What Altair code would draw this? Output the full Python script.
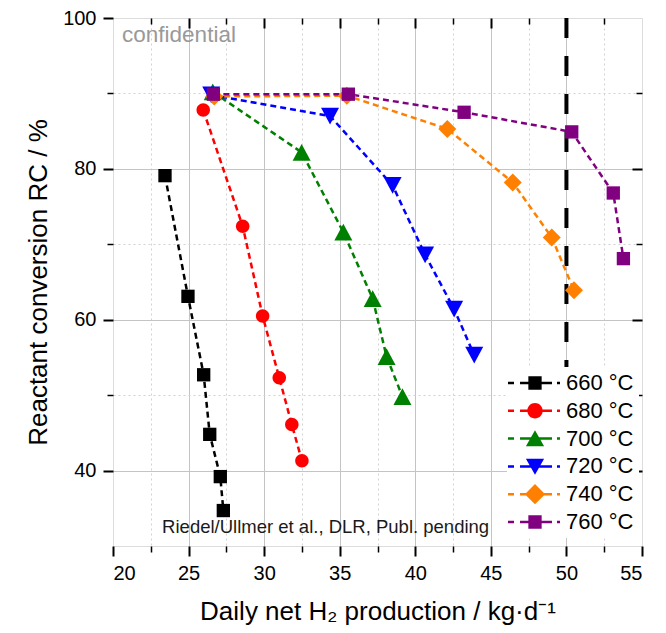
import altair as alt
import pandas as pd

FONT = "Liberation Sans"

series = ["660 °C", "680 °C", "700 °C", "720 °C", "740 °C", "760 °C"]
colors = ["#000000", "#ff0000", "#008000", "#0000ff", "#ff8000", "#800080"]

x660 = [23.44, 24.96, 26.0, 26.4, 27.1, 27.3]
y660 = [79.1, 63.1, 52.7, 44.8, 39.2, 34.7]
x680 = [25.97, 28.58, 29.9, 31.0, 31.83, 32.5]
y680 = [87.8, 72.4, 60.5, 52.3, 46.1, 41.3]
x700 = [26.6, 32.48, 35.24, 37.18, 38.1, 39.15]
y700 = [90.2, 82.2, 71.6, 62.8, 55.1, 49.8]
x720 = [26.5, 34.36, 38.5, 40.65, 42.57, 43.9]
y720 = [89.8, 87.0, 77.8, 68.6, 61.4, 55.3]
x740 = [26.7, 35.47, 42.12, 46.45, 49.03, 50.5]
y740 = [89.6, 89.7, 85.3, 78.2, 70.9, 63.9]
x760 = [26.64, 35.57, 43.23, 50.35, 53.1, 53.77]
y760 = [89.9, 89.9, 87.5, 84.9, 76.8, 68.1]

x_major = [20, 25, 30, 35, 40, 45, 50, 55]
x_minor = [22.5, 27.5, 32.5, 37.5, 42.5, 47.5, 52.5]
y_major = [40, 60, 80, 100]
y_minor = [50, 70, 90]
x_limit = [50]

conf_text = ["confidential"]
conf_x = [20.6]
conf_y = [97.8]
cite_text = ["Riedel/Ullmer et al., DLR, Publ. pending"]
cite_x = [23.25]
cite_y = [32.5]

# point marker paths (unit box, drawn at size 324)
pt_paths = [
    "M-0.74,-0.74H0.74V0.74H-0.74Z",
    "M-0.75,0A0.75,0.75 0 1,1 0.75,0A0.75,0.75 0 1,1 -0.75,0Z",
    "M0,-0.93L1,0.93H-1Z",
    "M-1,-0.93H1L0,0.93Z",
    "M0,-1L1,0L0,1L-1,0Z",
    "M-0.74,-0.74H0.74V0.74H-0.74Z",
]
dash = ("M-3.86,-0.18H-3V0.18H-3.86Z M-2.14,-0.18H-0.5V0.18H-2.14Z "
        "M0.5,-0.18H2.43V0.18H0.5Z M3.14,-0.18H3.57V0.18H3.14Z ")
lg_paths = [
    dash + "M-0.95,-0.95H0.95V0.95H-0.95Z",
    dash + "M-1.1,0A1.1,1.1 0 1,1 1.1,0A1.1,1.1 0 1,1 -1.1,0Z",
    dash + "M0,-1.2L1.3,1.1H-1.3Z",
    dash + "M-1.3,-1.1H1.3L0,1.2Z",
    dash + "M0,-1.45L1.45,0L0,1.45L-1.45,0Z",
    dash + "M-0.95,-0.95H0.95V0.95H-0.95Z",
]

X = [x660, x680, x700, x720, x740, x760]
Y = [y660, y680, y700, y720, y740, y760]
rows = []
for name, xs, ys in zip(series, X, Y):
    for i, (a, b) in enumerate(zip(xs, ys)):
        rows.append({"T": name, "x": a, "y": b, "i": i})
df = pd.DataFrame(rows)

W = 529
H = 528
xscale = alt.Scale(domain=[20, 55], nice=False, zero=False)
yscale = alt.Scale(domain=[30, 100], nice=False, zero=False)
cscale = alt.Scale(domain=series, range=colors)

GRID_MAJOR = "#c4c4c4"
GRID_MINOR = "#d2d2d2"

x_grid_op = {"condition": {"test": "datum.value <= 20 || datum.value >= 55", "value": 0}, "value": 1}
y_grid_op = {"condition": {"test": "datum.value <= 30 || datum.value >= 100", "value": 0}, "value": 1}

ax_bottom_major = alt.Axis(
    orient="bottom", values=x_major, title="Daily net H₂ production / kg·d⁻¹",
    grid=True, gridColor=GRID_MAJOR, gridWidth=1, gridOpacity=x_grid_op,
    tickSize=10, tickWidth=2, tickColor="black", domain=False,
    labelFontSize=20, labelPadding=7, labelColor="black", labelFont=FONT,
    titleFontSize=26, titlePadding=15, titleFontWeight="normal", titleColor="black", titleFont=FONT,
)
ax_left_major = alt.Axis(
    orient="left", values=y_major, title="Reactant conversion RC / %",
    grid=True, gridColor=GRID_MAJOR, gridWidth=1, gridOpacity=y_grid_op,
    tickSize=10, tickWidth=2, tickColor="black", domain=False,
    labelFontSize=20, labelPadding=7, labelColor="black", labelFont=FONT,
    titleFontSize=26, titlePadding=11, titleFontWeight="normal", titleColor="black", titleFont=FONT,
)
ax_bottom_minor = alt.Axis(
    orient="bottom", values=x_minor, title=None, labels=False,
    grid=True, gridColor=GRID_MINOR, gridWidth=1, gridDash=[2, 3],
    tickSize=6, tickWidth=1.5, tickColor="black", domain=False,
)
ax_left_minor = alt.Axis(
    orient="left", values=y_minor, title=None, labels=False,
    grid=True, gridColor=GRID_MINOR, gridWidth=1, gridDash=[2, 3],
    tickSize=6, tickWidth=1.5, tickColor="black", domain=False,
)
ax_top_major = alt.Axis(
    orient="top", values=x_major[1:-1], title=None, labels=False, grid=False,
    tickSize=10, tickWidth=2, tickColor="black", domain=False, offset=-10,
)
ax_top_minor = alt.Axis(
    orient="top", values=x_minor, title=None, labels=False, grid=False,
    tickSize=6, tickWidth=1.5, tickColor="black", domain=False, offset=-6,
)
ax_right_major = alt.Axis(
    orient="right", values=y_major[:-1], title=None, labels=False, grid=False,
    tickSize=10, tickWidth=2, tickColor="black", domain=False, offset=-10,
)
ax_right_minor = alt.Axis(
    orient="right", values=y_minor, title=None, labels=False, grid=False,
    tickSize=6, tickWidth=1.5, tickColor="black", domain=False, offset=-6,
)

limit = alt.Chart(pd.DataFrame({"x": x_limit})).mark_rule(
    color="black", strokeWidth=4, strokeDash=[20, 18]
).encode(x=alt.X("x:Q", scale=xscale, axis=None))

lines = alt.Chart(df).mark_line(strokeDash=[6, 4], strokeWidth=2.5).encode(
    x=alt.X("x:Q", scale=xscale, axis=ax_bottom_major),
    y=alt.Y("y:Q", scale=yscale, axis=ax_left_major),
    color=alt.Color("T:N", scale=cscale, legend=None),
    order=alt.Order("i:Q"),
)

points = alt.Chart(df).mark_point(filled=True, size=324, opacity=1, strokeWidth=0).encode(
    x=alt.X("x:Q", scale=xscale, axis=ax_bottom_minor),
    y=alt.Y("y:Q", scale=yscale, axis=ax_left_minor),
    color=alt.Color("T:N", scale=cscale, legend=None),
    shape=alt.Shape("T:N", scale=alt.Scale(domain=series, range=pt_paths), legend=None),
)

leg = alt.Legend(
    title=None, orient="none", legendX=394, legendY=349,
    symbolSize=196, symbolOffset=12, labelOffset=20, symbolStrokeWidth=0,
    symbolOpacity=1, labelFontSize=22, labelFont=FONT, labelColor="black",
    rowPadding=5.8, padding=5, fillColor="white", labelLimit=300,
)
legend_layer = alt.Chart(df).mark_point(filled=True, size=196, opacity=0).encode(
    x=alt.X("x:Q", scale=xscale, axis=None),
    y=alt.Y("y:Q", scale=yscale, axis=None),
    color=alt.Color("T:N", scale=cscale, legend=leg),
    shape=alt.Shape("T:N", scale=alt.Scale(domain=series, range=lg_paths), legend=leg),
)

conf = alt.Chart(pd.DataFrame({"x": conf_x, "y": conf_y, "t": conf_text})).mark_text(
    align="left", baseline="middle", fontSize=22.5, color="#999999", font=FONT
).encode(
    x=alt.X("x:Q", scale=xscale, axis=ax_top_major),
    y=alt.Y("y:Q", scale=yscale, axis=ax_right_major),
    text="t:N",
)

cite = alt.Chart(pd.DataFrame({"x": cite_x, "y": cite_y, "t": cite_text})).mark_text(
    align="left", baseline="middle", fontSize=18.5, color="#1a1a1a", font=FONT
).encode(
    x=alt.X("x:Q", scale=xscale, axis=ax_top_minor),
    y=alt.Y("y:Q", scale=yscale, axis=ax_right_minor),
    text="t:N",
)

chart = alt.layer(limit, lines, points, legend_layer, conf, cite).resolve_scale(
    color="independent", shape="independent"
).resolve_axis(
    x="independent", y="independent"
).properties(
    width=W, height=H,
    autosize=alt.AutoSizeParams(type="none"),
    padding={"left": 105, "top": 10, "right": 14, "bottom": 79},
).configure_view(
    stroke="black", strokeWidth=2
).configure(
    font=FONT, background="white"
)

chart.save("out.html", embed_options={"renderer": "svg", "actions": False})
